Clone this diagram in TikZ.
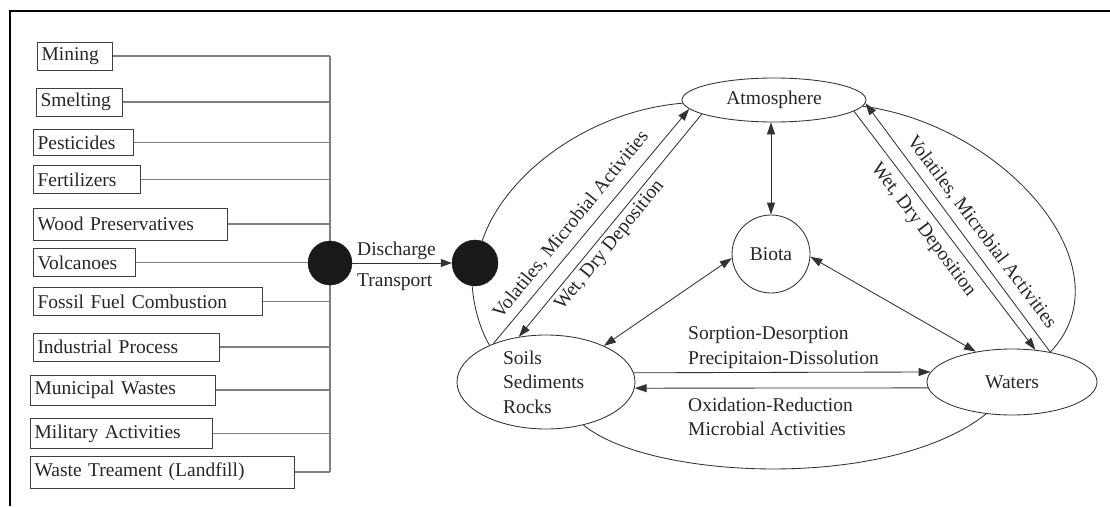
\documentclass[tikz,border=0pt]{standalone}
\usepackage{fontspec}
\setmainfont{Liberation Serif}
\usetikzlibrary{arrows.meta,shapes.geometric,calc}
\begin{document}
\begin{tikzpicture}[x=1pt,y=-1pt,
  every node/.style={font=\fontsize{19.5}{24.5}\selectfont, text=black!85},
  srcbox/.style={draw=black!75, line width=1pt, anchor=west, inner xsep=4pt, inner ysep=0pt, minimum height=28pt, align=left},
  feed/.style={draw=black!50, line width=1.1pt},
  ln/.style={draw=black!80, line width=0.85pt},
  tip/.tip={Triangle[length=12pt,width=8pt]},
  arr/.style={ln, -tip},
  darr/.style={ln, tip-tip},
  ell/.style={ellipse, draw=black!80, line width=0.85pt, inner sep=0pt},
  dot/.style={circle, fill=black!90, draw=black!90, inner sep=0pt},
  lbl/.style={inner sep=0pt}
]
\useasboundingbox (0,0) rectangle (1110,506);
% frame
\draw[line width=2.6pt, black] (10,506) -- (10,11) -- (1110,11);

% source boxes
\node[srcbox, text width=67pt] (mining) at (37,56) {Mining};
\node[srcbox, text width=78pt] (smelt) at (36,102) {Smelting};
\node[srcbox, text width=92pt, minimum height=26pt] (pest) at (33,142.5) {Pesticides};
\node[srcbox, text width=99pt] (fert) at (33,179.5) {Fertilizers};
\node[srcbox, text width=186pt, minimum height=32pt] (wood) at (33,224) {Wood Preservatives};
\node[srcbox, text width=94pt] (volc) at (33,262.5) {Volcanoes};
\node[srcbox, text width=221pt] (foss) at (33,301.5) {Fossil Fuel Combustion};
\node[srcbox, text width=178pt] (indu) at (33,347) {Industrial Process};
\node[srcbox, text width=177pt, minimum height=30pt] (muni) at (30,390) {Municipal Wastes};
\node[srcbox, text width=174pt, minimum height=30pt] (mili) at (30,433.5) {Military Activities};
\node[srcbox, text width=256pt, minimum height=32pt] (wast) at (30,472) {Waste Treament (Landfill)};

\coordinate (bt) at (330,56);
\coordinate (bb) at (330,472);
\draw[feed] (bt) -- (bb);
\foreach \n in {mining,smelt,pest,fert,wood,volc,foss,indu,muni,mili,wast}
  \draw[feed] (\n.east) -- (\n.east -| bt);

% discharge circles
\node[dot, minimum size=44pt] (c1) at (330,263) {};
\node[dot, minimum size=46pt] (c2) at (475,263) {};
\draw[ln, -{Triangle[length=11pt,width=8pt]}] (c1) -- (c2);
\node[lbl, anchor=base west] (dis) at (357,255) {Discharge};
\node[lbl, anchor=base west] (tra) at (357,286) {Transport};

% compartments
\node[ell, minimum width=184pt, minimum height=44pt] (atm) at (774,100) {Atmosphere};
\node[circle, draw=black!80, line width=0.85pt, inner sep=0pt, minimum size=78pt] (biota) at (771,254) {Biota};
\node[ell, minimum width=178pt, minimum height=94pt, text width=86pt, align=left] (soils) at (546,382) {Soils\\Sediments\\Rocks};
\node[ell, minimum width=170pt, minimum height=66pt] (waters) at (1012,382) {Waters};

% outer curves
\draw[ln] (c2.72) .. controls +(22,-66) and +(-95,8) .. (atm.182);
\draw[ln] (c2.263) .. controls +(2,25) and +(-8,-14) .. (soils.147);
\draw[ln] (atm.-4) .. controls +(142,19) and +(80,-84) .. (waters.38);
\draw[ln] (soils.-49) .. controls +(67,55) and +(-97,77) .. (waters.231);

% diagonal arrows
\draw[arr] (soils.144) -- (atm.186);
\draw[arr] (atm.191) -- (soils.121);
\draw[arr] (waters.38) -- (atm.-2);
\draw[arr] (atm.-8) -- (waters.54);

% biota arrows
\draw[darr] (biota.north |- atm.south) -- (biota.north);
\draw[darr] (biota.186) -- (soils.32);
\draw[darr] (biota.-4) -- (waters.140);

% horizontal arrows
\draw[arr] (soils.6.6) -- (waters.173);
\draw[arr] (waters.184.8) -- (soils.-4.5);

% labels
\node[lbl, rotate=51] (lvol) at (571,224.5) {Volatiles, Microbial Activities};
\node[lbl, rotate=51] (lwet) at (610,245.5) {Wet, Dry Deposition};
\node[lbl, rotate=-53] (rvol) at (981.5,232) {Volatiles, Microbial Activities};
\node[lbl, rotate=-53] (rwet) at (923,230) {Wet, Dry Deposition};
\node[lbl, anchor=base west] (sorp) at (688,339) {Sorption-Desorption};
\node[lbl, anchor=base west] (prec) at (688,364) {Precipitaion-Dissolution};
\node[lbl, anchor=base west] (oxid) at (688,411) {Oxidation-Reduction};
\node[lbl, anchor=base west] (micr) at (688,435) {Microbial Activities};
\end{tikzpicture}
\end{document}
